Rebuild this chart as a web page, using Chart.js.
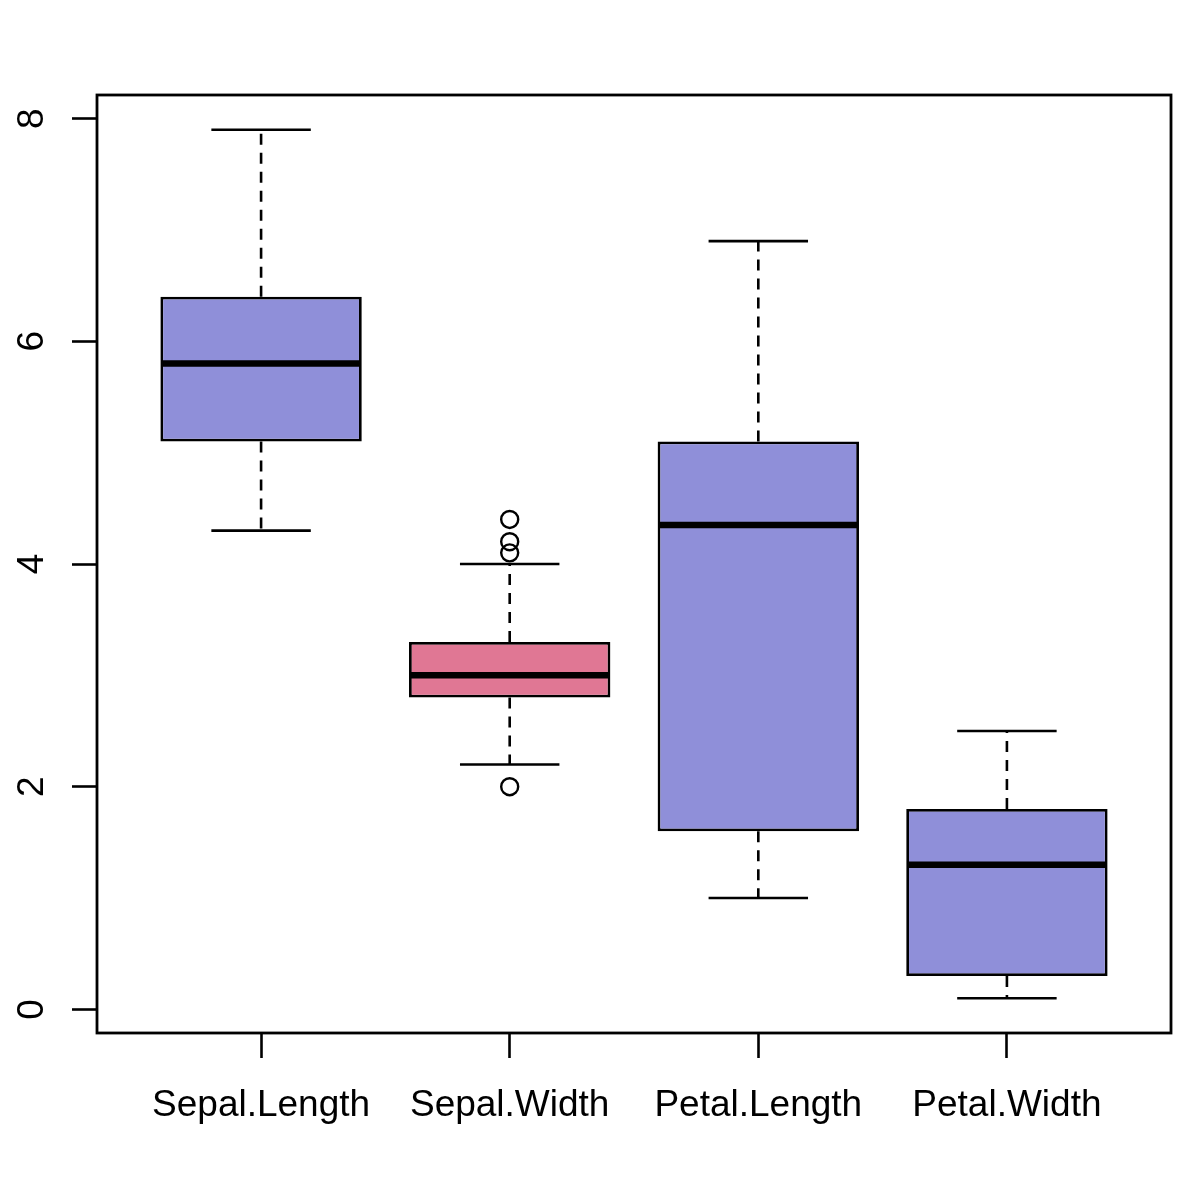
<!DOCTYPE html>
<html>
<head>
<meta charset="utf-8">
<script src="https://cdn.jsdelivr.net/npm/chart.js@4/dist/chart.umd.min.js"></script>
<style>
html,body{margin:0;padding:0;background:#fff;}
#wrap{width:1200px;height:1200px;}
</style>
</head>
<body>
<div id="wrap"><canvas id="c"></canvas></div>
<script>
const categories = ['Sepal.Length', 'Sepal.Width', 'Petal.Length', 'Petal.Width'];
const whiskerLow = [4.3, 2.2, 1.0, 0.1];
const q1Values = [5.1, 2.8, 1.6, 0.3];
const medians = [5.8, 3.0, 4.35, 1.3];
const q3Values = [6.4, 3.3, 5.1, 1.8];
const whiskerHigh = [7.9, 4.0, 6.9, 2.5];
const outliers = [[], [4.4, 4.1, 4.2, 2.0], [], []];
const boxColors = ['#8F8FD9', '#E07794', '#8F8FD9', '#8F8FD9'];
const yTicks = [0, 2, 4, 6, 8];
const xTicks = [1, 2, 3, 4];

const FONT = {family: "'Liberation Sans', Arial, sans-serif", size: 37};
const CAP = 0.2; // half cap width in category units

const boxData = categories.map((c, i) => ({x: i + 1, y: [q1Values[i], q3Values[i]]}));
const medianData = [];
const whiskerData = [];
const capData = [];
categories.forEach((c, i) => {
  const x = i + 1;
  medianData.push({x: x - 0.4, y: medians[i]}, {x: x + 0.4, y: medians[i]}, {x: x, y: null});
  whiskerData.push({x: x, y: q3Values[i]}, {x: x, y: whiskerHigh[i]}, {x: x, y: null});
  whiskerData.push({x: x, y: q1Values[i]}, {x: x, y: whiskerLow[i]}, {x: x, y: null});
  capData.push({x: x - CAP, y: whiskerHigh[i]}, {x: x + CAP, y: whiskerHigh[i]}, {x: x, y: null});
  capData.push({x: x - CAP, y: whiskerLow[i]}, {x: x + CAP, y: whiskerLow[i]}, {x: x, y: null});
});
const outlierData = [];
outliers.forEach((arr, i) => arr.forEach(v => outlierData.push({x: i + 1, y: v})));

const framePlugin = {
  id: 'frame',
  afterDatasetsDraw(chart) {
    const {ctx, chartArea: a} = chart;
    ctx.save();
    ctx.strokeStyle = '#000';
    ctx.lineWidth = 2.8;
    ctx.strokeRect(a.left, a.top, a.right - a.left, a.bottom - a.top);
    ctx.restore();
  }
};

new Chart(document.getElementById('c'), {
  type: 'bar',
  data: {
    datasets: [
      {type: 'line', data: medianData, borderColor: '#000', borderWidth: 6.5, pointRadius: 0, spanGaps: false, order: 0, borderCapStyle: 'butt'},
      {type: 'scatter', data: outlierData, pointStyle: 'circle', pointRadius: 8.5, pointBorderWidth: 2.4, pointBorderColor: '#000', pointBackgroundColor: 'rgba(0,0,0,0)', order: 1},
      {type: 'line', data: whiskerData, borderColor: '#000', borderWidth: 2.6, borderDash: [11, 8], pointRadius: 0, spanGaps: false, order: 2},
      {type: 'line', data: capData, borderColor: '#000', borderWidth: 2.6, pointRadius: 0, spanGaps: false, order: 2},
      {type: 'bar', data: boxData, backgroundColor: boxColors, borderColor: '#000', borderWidth: 2.8, borderSkipped: false, categoryPercentage: 1, barPercentage: 0.81, order: 3}
    ]
  },
  options: {
    responsive: true,
    maintainAspectRatio: false,
    devicePixelRatio: 1,
    animation: false,
    layout: {padding: {top: 95, right: 29, left: 0, bottom: 0}},
    plugins: {legend: {display: false}, tooltip: {enabled: false}},
    scales: {
      x: {
        type: 'linear',
        min: 0.34, max: 4.66,
        offset: false,
        afterBuildTicks: s => { s.ticks = xTicks.map(v => ({value: v})); },
        afterFit: s => { s.height = 167; },
        border: {display: false},
        grid: {display: true, drawOnChartArea: false, drawTicks: true, tickLength: 25, tickWidth: 2.6, tickColor: '#000', offset: false},
        ticks: {color: '#000', font: FONT, padding: 26, autoSkip: false, maxRotation: 0, callback: v => categories[v - 1]}
      },
      y: {
        type: 'linear',
        min: -0.212, max: 8.212,
        afterBuildTicks: s => { s.ticks = yTicks.map(v => ({value: v})); },
        afterFit: s => { s.width = 97; },
        border: {display: false},
        grid: {display: true, drawOnChartArea: false, drawTicks: true, tickLength: 25, tickWidth: 2.6, tickColor: '#000'},
        ticks: {color: '#000', font: FONT, padding: 29, minRotation: 90, maxRotation: 90, crossAlign: 'center', autoSkip: false}
      }
    }
  },
  plugins: [framePlugin]
});
</script>
</body>
</html>
